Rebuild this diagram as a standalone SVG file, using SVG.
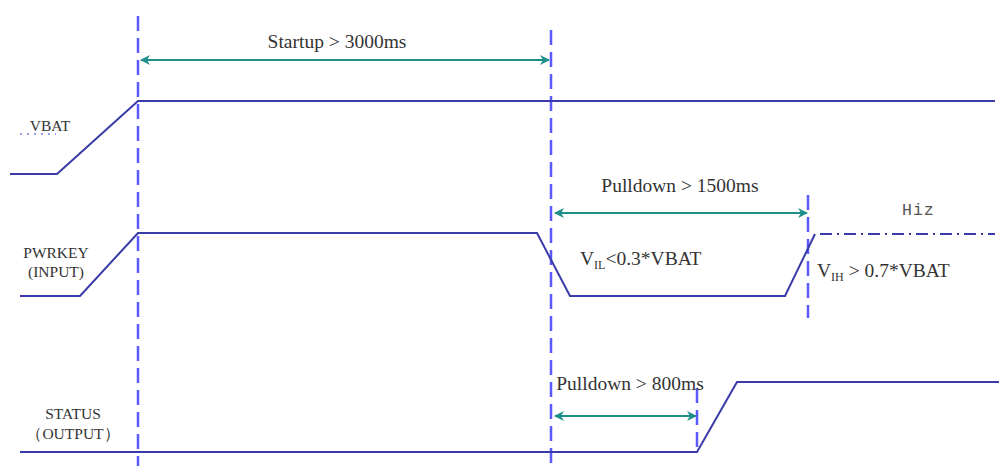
<svg xmlns="http://www.w3.org/2000/svg" width="999" height="466" viewBox="0 0 999 466">
<style>
.sig{fill:none;stroke:#3a3aa8;stroke-width:2}
.vl{fill:none;stroke:#5a5aff;stroke-width:2.5;stroke-dasharray:15 7}
.dim{fill:none;stroke:#1f8f8a;stroke-width:2;marker-start:url(#ah);marker-end:url(#ah)}
.t{font-family:"Liberation Serif","Times New Roman",serif;fill:#333}
.lbl{font-size:15.5px;text-anchor:middle}
.big{font-size:19.5px}
.sub{font-size:12px}
</style>
<defs>
<marker id="ah" viewBox="0 0 10 10" refX="9" refY="5" markerWidth="11" markerHeight="10" markerUnits="userSpaceOnUse" orient="auto-start-reverse">
<path d="M0,0 L10,5 L0,10 L3,5 Z" fill="#1f8f8a"/>
</marker>
</defs>
<rect width="999" height="466" fill="#fff"/>
<g id="guides">
<line class="vl" x1="138" y1="16" x2="138" y2="466"/>
<line class="vl" x1="551" y1="30" x2="551" y2="466"/>
<line class="vl" x1="808" y1="195" x2="808" y2="318"/>
<line class="vl" x1="697" y1="388" x2="697" y2="448"/>
</g>
<g id="vbat">
<polyline class="sig" points="10,174 57,174 138,101 995,101"/>
<text class="t lbl" x="50" y="131">VBAT</text>
<line x1="20" y1="134" x2="56" y2="134" stroke="#7a7ae8" stroke-width="1.5" stroke-dasharray="2 5"/>
</g>
<g id="pwrkey">
<polyline class="sig" points="20,296 80,296 138,233 537,233 570,296 785,296 815,234"/>
<line x1="820" y1="234" x2="995" y2="234" stroke="#3a3aa8" stroke-width="2" stroke-dasharray="12 5 2 5"/>
<text class="t lbl" x="56" y="258">PWRKEY</text>
<text class="t lbl" x="56" y="277">(INPUT)</text>
<text x="902" y="215" font-family="Liberation Mono,monospace" font-size="16.5px" fill="#555" letter-spacing="1">Hiz</text>
<text class="t big" x="580" y="265">V<tspan class="sub" dy="4">IL</tspan><tspan dy="-4">&lt;0.3*VBAT</tspan></text>
<text class="t big" x="817" y="277">V<tspan class="sub" dy="4">IH</tspan><tspan dy="-4"> &gt; 0.7*VBAT</tspan></text>
</g>
<g id="status">
<polyline class="sig" points="20,452 697,452 737,382 999,382"/>
<text class="t lbl" x="73" y="419">STATUS</text>
<text class="t lbl" x="73" y="439">（OUTPUT）</text>
</g>
<g id="connectors">
<line class="dim" x1="141" y1="60" x2="549" y2="60"/>
<line class="dim" x1="555" y1="213" x2="807" y2="213"/>
<line class="dim" x1="555" y1="416" x2="696" y2="416"/>
</g>
<g id="dimlabels">
<text class="t big" x="337" y="48" text-anchor="middle">Startup &gt; 3000ms</text>
<text class="t big" x="680" y="192" text-anchor="middle">Pulldown &gt; 1500ms</text>
<text class="t big" x="630" y="390" text-anchor="middle">Pulldown &gt; 800ms</text>
</g>
</svg>
